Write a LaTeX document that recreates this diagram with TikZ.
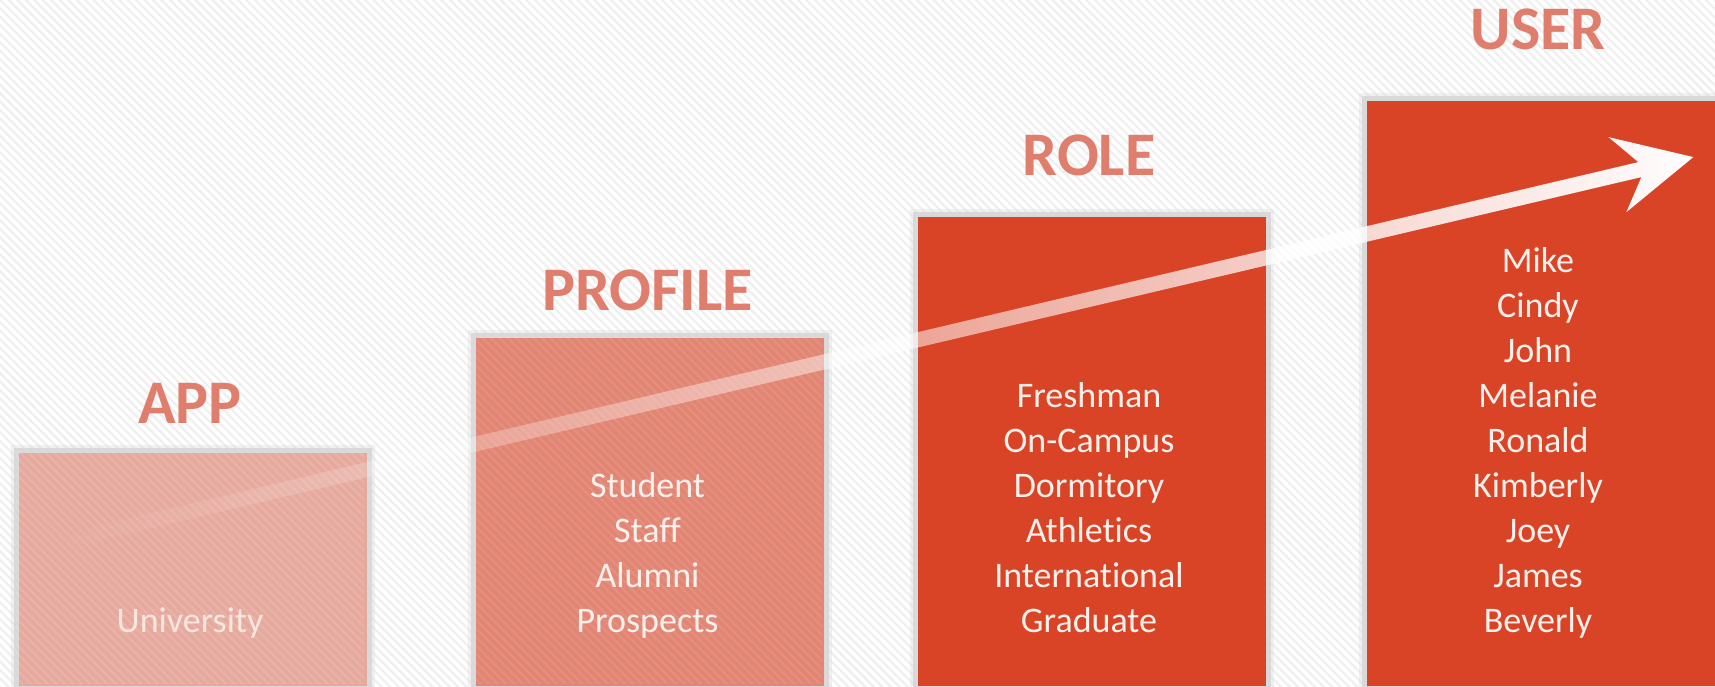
\documentclass[tikz,border=0pt]{standalone}
\usepackage{fontspec}
\setmainfont{Carlito}[Ligatures=NoCommon]
\usetikzlibrary{patterns.meta,fadings}
\definecolor{appc}{HTML}{E7A99D}
\definecolor{profc}{HTML}{E38573}
\definecolor{rolec}{HTML}{D94427}
\definecolor{titlec}{HTML}{DF7E6D}
\definecolor{borderc}{HTML}{D9D9D9}
\definecolor{stripec}{HTML}{EFEFEF}
\definecolor{textc}{HTML}{FBF0EC}
\tikzfading[name=arrowfade, left color=transparent!100, right color=transparent!0]
\begin{document}
\begin{tikzpicture}[x=1pt,y=-1pt,
  box/.style={draw=borderc, line width=5pt, minimum width=353pt, inner sep=0pt, anchor=north west,
    preaction={draw=borderc, line width=11pt, opacity=0.35}},
  stripes/.style={pattern={Lines[angle=-45,distance=6pt,line width=2.2pt]}, pattern color=stripec},
  title/.style={font=\fontsize{62}{72}\selectfont\bfseries, text=titlec, inner sep=0pt, anchor=base},
  body/.style={font=\fontsize{36}{45}\selectfont, text=textc, inner sep=0pt, anchor=base}]
\useasboundingbox (0,0) rectangle (1715,687);
\fill[white] (0,0) rectangle (1715,687);
\fill[stripes] (0,0) rectangle (1715,687);
% boxes
\node[box, fill=appc, minimum height=238pt] (app) at (13.5,447.5) {};
\node[box, fill=profc, minimum height=353pt] (profile) at (470.5,332.5) {};
\node[box, fill=rolec, minimum height=474pt] (role) at (912.5,211.5) {};
\node[box, fill=rolec, minimum height=589pt] (user) at (1361.5,96.5) {};
% faint stripes through the lighter boxes
\fill[stripes, opacity=0.15] (16,450) rectangle (364,683);
\fill[stripes, opacity=0.1] (473,335) rectangle (822,683);
% arrow
\coordinate (s1) at (55,536);
\coordinate (j1) at (1642,162);
\coordinate (b1) at (1612,137);
\coordinate (tip) at (1697,157);
\coordinate (b2) at (1630,212);
\coordinate (j2) at (1645,177);
\coordinate (s2) at (55,551);
\fill[white, path fading=arrowfade] (s1) -- (j1) -- (b1) -- (tip) -- (b2) -- (j2) -- (s2) -- cycle;
% titles
\node[title] (tapp) at (190,423) {APP};
\node[title] (tprofile) at (647.5,310) {PROFILE};
\node[title] (trole) at (1089,176) {ROLE};
\node[title] (tuser) at (1538,50) {USER};
% texts
\node[body, text opacity=0.85] (xapp) at (190,632) {\parbox[b]{340pt}{\centering University}};
\node[body] (xprofile) at (647.5,632) {\parbox[b]{340pt}{\centering Student\\Staff\\Alumni\\Prospects}};
\node[body] (xrole) at (1089,632) {\parbox[b]{340pt}{\centering Freshman\\On-Campus\\Dormitory\\Athletics\\International\\Graduate}};
\node[body] (xuser) at (1538,632) {\parbox[b]{340pt}{\centering Mike\\Cindy\\John\\Melanie\\Ronald\\Kimberly\\Joey\\James\\Beverly}};
\end{tikzpicture}
\end{document}
